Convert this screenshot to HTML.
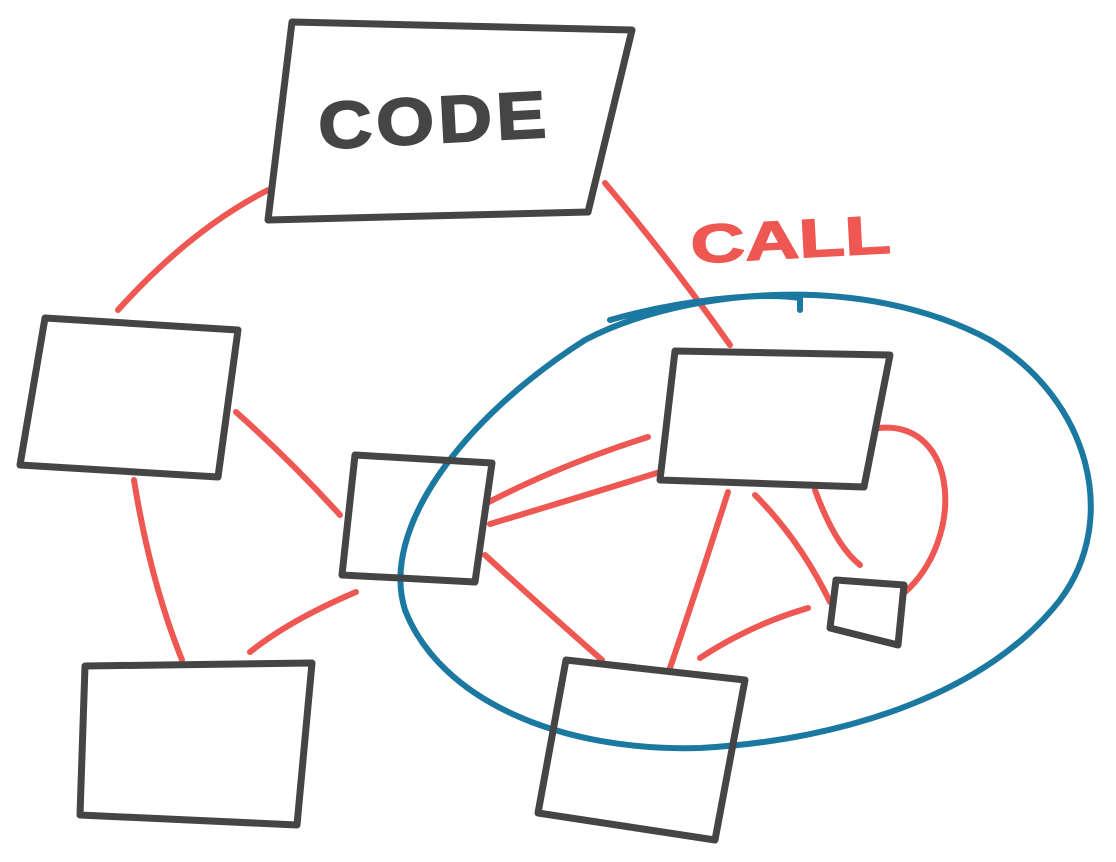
<!DOCTYPE html>
<html><head><meta charset="utf-8"><style>
html,body{margin:0;padding:0;background:#fff;}
svg{display:block}
</style></head><body>
<svg width="1116" height="862" viewBox="0 0 1116 862" xmlns="http://www.w3.org/2000/svg">
<g fill="none" stroke-linecap="round" stroke-linejoin="round">
<g stroke="#ee5752" stroke-width="6">
<path d="M268 190 Q190 230 118 310"/>
<path d="M236 412 Q290 460 340 515"/>
<path d="M134 480 Q150 580 182 660"/>
<path d="M356 592 Q290 620 250 652"/>
<path d="M605 183 Q670 260 730 345"/>
<path d="M648 437 Q560 465 487 503"/>
<path d="M660 472 Q570 500 490 524"/>
<path d="M485 555 Q545 610 602 660"/>
<path d="M728 492 Q700 580 670 668"/>
<path d="M755 495 Q800 540 830 602"/>
<path d="M815 490 Q835 545 860 565"/>
<path d="M700 658 Q750 625 808 608"/>
<path d="M878 428 C960 420 965 540 904 593"/>
</g>
<path stroke="#1b78a0" stroke-width="6" d="M585 340 C680 290 860 270 990 340 C1090 400 1120 520 1060 600 C990 690 850 740 700 748 C560 752 440 700 405 610 C380 530 460 420 585 340 Z M610 320 C680 300 760 292 800 298 L800 310"/>
<g stroke="#454545" stroke-width="7">
<path d="M292 22 L632 30 L588 212 L268 220 Z"/>
<path d="M45 318 L238 330 L218 477 L20 465 Z"/>
<path d="M355 455 L492 463 L475 582 L342 575 Z"/>
<path d="M85 666 L312 663 L297 825 L80 815 Z"/>
<path d="M675 351 L890 355 L864 487 L660 480 Z"/>
<path d="M566 660 L745 680 L715 840 L538 813 Z"/>
<path d="M836 580 L904 585 L898 645 L830 628 Z"/>
</g>
</g>
<text x="318" y="143" font-family="Liberation Sans, sans-serif" font-weight="bold" font-size="66" fill="#454545" stroke="#454545" stroke-width="2" letter-spacing="4" textLength="232" lengthAdjust="spacingAndGlyphs" transform="rotate(-3 430 115)">CODE</text>
<text x="690" y="258" font-family="Liberation Sans, sans-serif" font-weight="bold" font-size="54" fill="#ee5752" stroke="#ee5752" stroke-width="1.5" textLength="200" lengthAdjust="spacingAndGlyphs" transform="rotate(-3 790 230)">CALL</text>
</svg>
</body></html>
